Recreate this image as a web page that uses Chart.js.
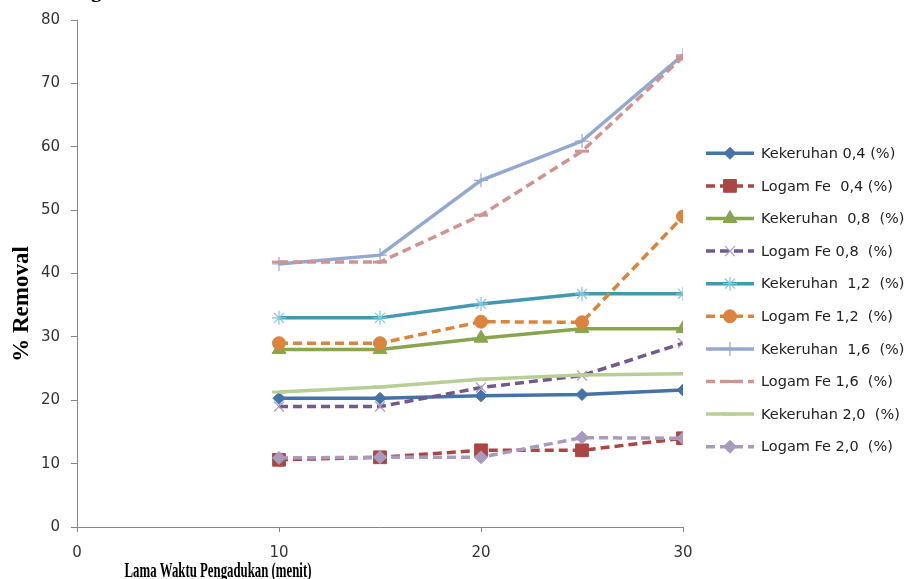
<!DOCTYPE html>
<html>
<head>
<meta charset="utf-8">
<script src="https://cdn.jsdelivr.net/npm/chart.js@4/dist/chart.umd.min.js"></script>
<style>
  html, body { margin: 0; padding: 0; background: #ffffff; }
  #wrap { width: 907px; height: 579px; position: relative; }
</style>
</head>
<body>
<div id="wrap"><canvas id="chart" width="907" height="579"></canvas></div>
<script>
// Stirring time (minutes)
const waktu = [10, 15, 20, 25, 30];

// % removal per coagulant dose
const kekeruhan04 = [20.3, 20.3, 20.7, 20.9, 21.6];
const logamFe04   = [10.6, 11.0, 12.1, 12.1, 14.0];
const kekeruhan08 = [28.0, 28.0, 29.8, 31.3, 31.3];
const logamFe08   = [19.0, 19.0, 22.0, 23.9, 29.0];
const kekeruhan12 = [33.0, 33.0, 35.2, 36.8, 36.8];
const logamFe12   = [29.0, 29.0, 32.4, 32.3, 49.0];
const kekeruhan16 = [41.5, 42.9, 54.7, 60.9, 74.5];
const logamFe16   = [41.8, 41.8, 49.2, 59.3, 74.2];
const kekeruhan20 = [21.3, 22.1, 23.3, 24.0, 24.2];
const logamFe20   = [10.9, 11.0, 11.0, 14.1, 14.0];

const seriesLabels = [
  'Kekeruhan 0,4 (%)', 'Logam Fe  0,4 (%)', 'Kekeruhan  0,8  (%)', 'Logam Fe 0,8  (%)',
  'Kekeruhan  1,2  (%)', 'Logam Fe 1,2  (%)', 'Kekeruhan  1,6  (%)', 'Logam Fe 1,6  (%)',
  'Kekeruhan 2,0  (%)', 'Logam Fe 2,0  (%)'
];
const yTicks = [0, 10, 20, 30, 40, 50, 60, 70, 80];
const xTicks = [0, 10, 20, 30];
const yTitle = '% Removal';
const xTitle = 'Lama Waktu Pengadukan (menit)';

const seriesValues = [kekeruhan04, logamFe04, kekeruhan08, logamFe08, kekeruhan12,
                      logamFe12, kekeruhan16, logamFe16, kekeruhan20, logamFe20];

const styles = [
  { line: '#4572A7', dash: [],     point: 'rectRot',  r: 6,   fill: '#4572A7', stroke: '#4572A7', bw: 1 },
  { line: '#AA4643', dash: [9, 5], point: 'rect',     r: 9,   fill: '#AA4643', stroke: '#AA4643', bw: 1 },
  { line: '#89A54E', dash: [],     point: 'triangle', r: 8,   fill: '#89A54E', stroke: '#89A54E', bw: 1 },
  { line: '#71588F', dash: [9, 5], point: 'crossRot', r: 7,   fill: '#A99BBD', stroke: '#A99BBD', bw: 1.2 },
  { line: '#4198AF', dash: [],     point: 'star',     r: 7,   fill: '#80C6DA', stroke: '#80C6DA', bw: 1.2 },
  { line: '#DB843D', dash: [9, 5], point: 'circle',   r: 6.5, fill: '#DB843D', stroke: '#DB843D', bw: 1 },
  { line: '#93A9CF', dash: [],     point: 'cross',    r: 7,   fill: '#93A9CF', stroke: '#93A9CF', bw: 1.2 },
  { line: '#D19392', dash: [9, 5], point: 'line',     r: 7,   fill: '#D19392', stroke: '#D19392', bw: 3 },
  { line: '#B9CD96', dash: [],     point: 'line',     r: 7,   fill: '#B9CD96', stroke: '#B9CD96', bw: 3 },
  { line: '#A99BBD', dash: [9, 5], point: 'rectRot',  r: 6.5, fill: '#A99BBD', stroke: '#A99BBD', bw: 1 }
];

const datasets = seriesValues.map((vals, i) => ({
  label: seriesLabels[i],
  data: vals.map((v, j) => ({ x: waktu[j], y: v })),
  borderColor: styles[i].line,
  borderWidth: 3.5,
  borderDash: styles[i].dash,
  pointStyle: styles[i].point,
  pointRadius: styles[i].r,
  pointHoverRadius: styles[i].r,
  pointBackgroundColor: styles[i].fill,
  pointBorderColor: styles[i].stroke,
  pointBorderWidth: styles[i].bw,
  tension: 0,
  fill: false,
  order: -i
}));

// Legend on the right: line sample, marker and label per series
const sideLegend = {
  id: 'sideLegend',
  afterDraw(chart) {
    const ctx = chart.ctx;
    const x0 = 706, x1 = 754, xm = 730, xt = 761;
    const top = 153.3, step = 32.6;
    ctx.save();
    seriesLabels.forEach((label, i) => {
      const y = top + i * step;
      const s = styles[i];
      ctx.save();
      ctx.strokeStyle = s.line;
      ctx.lineWidth = 3.5;
      ctx.setLineDash(s.dash);
      ctx.beginPath();
      ctx.moveTo(x0, y);
      ctx.lineTo(x1, y);
      ctx.stroke();
      ctx.restore();
      ctx.save();
      ctx.fillStyle = s.fill;
      ctx.strokeStyle = s.stroke;
      ctx.lineWidth = s.bw;
      ctx.setLineDash([]);
      Chart.helpers.drawPoint(ctx, { pointStyle: s.point, radius: s.r, rotation: 0, borderWidth: s.bw }, xm, y);
      ctx.restore();
      ctx.fillStyle = '#222222';
      ctx.font = '14.5px "DejaVu Sans"';
      ctx.textAlign = 'left';
      ctx.textBaseline = 'middle';
      ctx.fillText(label, xt, y + 1);
    });
    ctx.restore();
  }
};

// Axis titles in a bold serif face
const axisTitles = {
  id: 'axisTitles',
  afterDraw(chart) {
    const ctx = chart.ctx;
    ctx.save();
    ctx.fillStyle = '#000000';
    ctx.font = 'bold 23px "Liberation Serif"';
    ctx.textAlign = 'center';
    ctx.textBaseline = 'middle';
    ctx.translate(22, 304);
    ctx.rotate(-Math.PI / 2);
    ctx.fillText(yTitle, 0, 0);
    ctx.restore();

    ctx.save();
    ctx.fillStyle = '#000000';
    ctx.font = 'bold 21px "Liberation Serif"';
    ctx.textAlign = 'center';
    ctx.textBaseline = 'alphabetic';
    ctx.translate(218, 577);
    ctx.scale(0.61, 1);
    ctx.fillText(xTitle, 0, 0);
    ctx.restore();

    ctx.save();
    ctx.fillStyle = '#000000';
    ctx.font = 'bold 21px "Liberation Serif"';
    ctx.textAlign = 'left';
    ctx.textBaseline = 'alphabetic';
    ctx.fillText('g', 91, -3);
    ctx.restore();
  }
};

new Chart(document.getElementById('chart'), {
  type: 'line',
  data: { datasets },
  options: {
    responsive: false,
    animation: false,
    events: [],
    layout: { padding: { top: 18, right: 224, left: 0, bottom: 0 } },
    plugins: { legend: { display: false }, tooltip: { enabled: false }, title: { display: false } },
    scales: {
      x: {
        type: 'linear',
        min: 0, max: 30,
        afterBuildTicks(scale) { scale.ticks = xTicks.map(v => ({ value: v })); },
        afterFit(scale) { scale.height = 52; },
        grid: { drawOnChartArea: false, drawTicks: true, tickLength: 5, color: '#868686' },
        border: { display: true, color: '#868686', width: 1 },
        ticks: { color: '#333333', font: { family: 'DejaVu Sans', size: 15 }, padding: 12, maxRotation: 0 }
      },
      y: {
        type: 'linear',
        min: 0, max: 80,
        afterBuildTicks(scale) { scale.ticks = yTicks.map(v => ({ value: v })); },
        afterFit(scale) { scale.width = 77; },
        grid: { drawOnChartArea: false, drawTicks: true, tickLength: 6, color: '#868686' },
        border: { display: true, color: '#868686', width: 1 },
        ticks: { color: '#333333', font: { family: 'DejaVu Sans', size: 15 }, padding: 11 }
      }
    }
  },
  plugins: [sideLegend, axisTitles]
});
</script>
</body>
</html>
